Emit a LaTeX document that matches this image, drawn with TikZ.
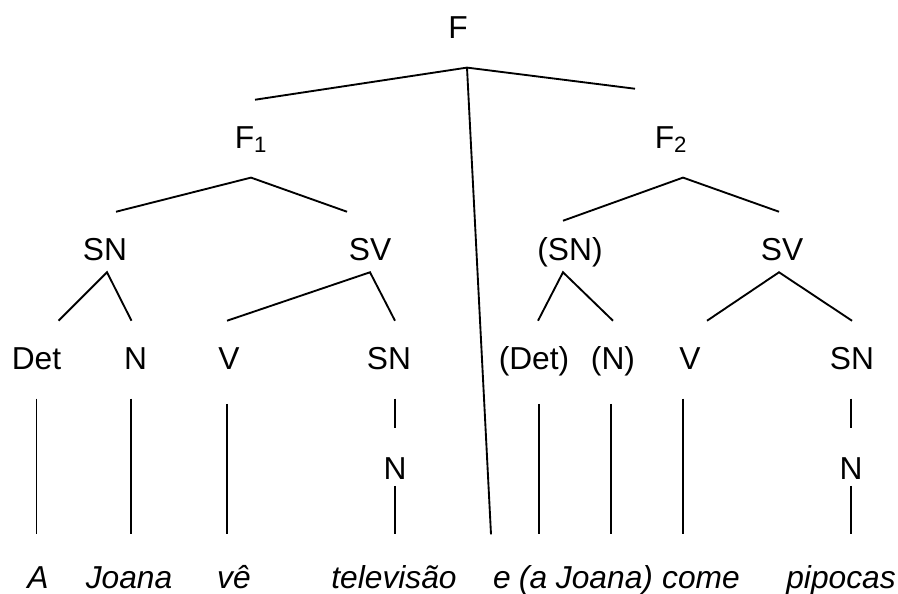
\documentclass[tikz,border=0pt]{standalone}
\usepackage{fontspec}
\setmainfont{Liberation Sans}
\usepackage{tikz}
\usetikzlibrary{calc}
\newcommand{\treefont}{\fontsize{23.8}{28}\selectfont}
\tikzset{
  cat/.style   ={font=\treefont,inner sep=0pt,anchor=base,
                 text height=36pt,text depth=9pt},
  deep/.style  ={cat,text depth=22pt},
  midn/.style  ={cat,text height=38pt,text depth=5pt},
  word/.style  ={cat,font=\treefont\itshape,text height=40pt,text depth=0pt},
  branch/.style={line width=1.4pt}
}

\begin{document}
\begin{tikzpicture}[x=0.75pt,y=-0.75pt]
\useasboundingbox (0,0) rectangle (898,593);

% baselines of the rows
\def\rowF{38}
\def\rowA{148}
\def\rowB{260}
\def\rowC{369}
\def\rowN{479}
\def\rowW{588}

\node[deep] (f)   at (458,\rowF) {F};
\node[deep] (f1)  at (251,\rowA) {F\textsubscript{1}};
\node[deep] (f2)  at (671,\rowA) {F\textsubscript{2}};

\node[cat] (sn1)  at (105,\rowB) {SN};
\node[cat] (sv1)  at (370,\rowB) {SV};
\node[cat] (sn2)  at (570,\rowB) {(SN)};
\node[cat] (sv2)  at (782,\rowB) {SV};

\node[deep] (det1) at (36.5,\rowC)  {Det};
\node[deep] (n1)   at (135.5,\rowC) {N};
\node[deep] (v1)   at (229,\rowC)   {V};
\node[deep] (sn3)  at (389,\rowC)   {SN};
\node[deep] (det2) at (534,\rowC)   {(Det)};
\node[deep] (n2)   at (613,\rowC)   {(N)};
\node[deep] (v2)   at (690,\rowC)   {V};
\node[deep] (sn4)  at (852,\rowC)   {SN};

\node[midn] (nm1) at (395,\rowN) {N};
\node[midn] (nm2) at (851,\rowN) {N};

\node[word] (a)    at (38,\rowW)  {A};
\node[word] (jo)   at (129,\rowW) {Joana};
\node[word] (ve)   at (234,\rowW) {vê};
\node[word] (tele) at (394,\rowW) {televisão};
\node[word] (e)    at (502,\rowW) {e};
\node[word] (aj)   at (586,\rowW) {(a Joana)};
\node[word] (come) at (701,\rowW) {come};
\node[word] (pip)  at (841,\rowW) {pipocas};

% top level
\coordinate (froot) at ($(f.south)+(9,0)$);
\draw[branch] (froot) -- ($(f1.north)+(4,0)$);
\draw[branch] (froot) -- ($(f2.north)+(-36,-11)$);
\draw[branch] (froot) -- ($(e.north)+(-11,0)$);

\draw[branch] ($(sn1.north)+(11,0)$) -- (f1.south) -- ($(sv1.north)+(-23,0)$);
\draw[branch] ($(sn2.north)+(-7,9)$) -- ($(f2.south)+(12,0)$) -- ($(sv2.north)+(-3,0)$);

\draw[branch] ($(det1.north)+(22,0)$) -- ($(sn1.south)+(2,0)$) -- ($(n1.north)+(-4,0)$);
\draw[branch] ($(v1.north)+(-2,0)$) -- (sv1.south) -- ($(sn3.north)+(6,0)$);
\draw[branch] ($(det2.north)+(4,0)$) -- ($(sn2.south)+(-7,0)$) -- (n2.north);
\draw[branch] ($(v2.north)+(17,0)$) -- ($(sv2.south)+(-3,0)$) -- (sn4.north);

% down to the words
\draw[branch] (det1.south) -- (det1.south |- a.north);
\draw[branch] ([xshift=-3.4pt]n1.south) -- ([xshift=-3.4pt]n1.south |- jo.north);
\draw[branch] ([xshift=-1.5pt,yshift=-4pt]v1.south) -- ([xshift=-1.5pt]v1.south |- ve.north);
\draw[branch] (nm1.north |- sn3.south) -- (nm1.north);
\draw[branch] (nm1.south) -- (nm1.south |- tele.north);
\draw[branch] ([xshift=3.75pt,yshift=-4pt]det2.south) -- ([xshift=3.75pt]det2.south |- aj.north);
\draw[branch] ([xshift=-1.5pt,yshift=-4pt]n2.south) -- ([xshift=-1.5pt]n2.south |- aj.north);
\draw[branch] ([xshift=-5.25pt]v2.south) -- ([xshift=-5.25pt]v2.south |- come.north);
\draw[branch] (nm2.north |- sn4.south) -- (nm2.north);
\draw[branch] (nm2.south) -- (nm2.south |- pip.north);

\end{tikzpicture}
\end{document}
